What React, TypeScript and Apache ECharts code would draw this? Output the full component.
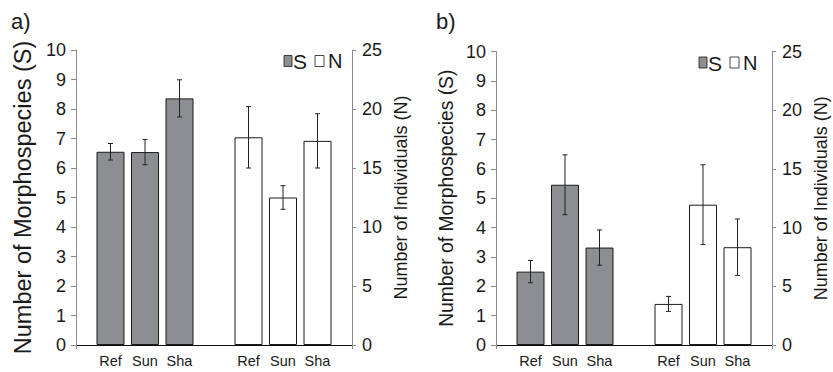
import React, { useEffect, useRef } from "react";
import * as echarts from "echarts";

const categories = ["", "Ref", "Sun", "Sha", "", "Ref", "Sun", "Sha", ""];
const sSlots = [1, 2, 3];
const nSlots = [5, 6, 7];

// panel a
const aS = [6.55, 6.54, 8.36];
const aSErr = [0.28, 0.43, 0.63];
const aN = [17.6, 12.5, 17.3];
const aNErr = [2.6, 1.0, 2.3];

// panel b
const bS = [2.5, 5.46, 3.32];
const bSErr = [0.38, 1.02, 0.6];
const bN = [3.5, 11.95, 8.33];
const bNErr = [0.64, 3.4, 2.4];

const sAxis = { min: 0, max: 10, interval: 1 };
const nAxis = { min: 0, max: 25, interval: 5 };

const FONT = "'Liberation Sans', Arial, sans-serif";
const AXIS_GRAY = "#8a8a8a";
const TEXT = "#1a1a1a";

function pairs(slots: number[], vals: number[]) {
  return slots.map((s, i) => [s, vals[i]]);
}
function triples(slots: number[], vals: number[], errs: number[]) {
  return slots.map((s, i) => [s, vals[i], errs[i]]);
}

const errRender = (params: any, api: any) => {
  const x = api.value(0);
  const y = api.value(1);
  const e = api.value(2);
  const top = api.coord([x, y + e]);
  const bot = api.coord([x, y - e]);
  const hw = 2.5;
  const style = { stroke: "#222", lineWidth: 1 };
  return {
    type: "group",
    children: [
      { type: "line", shape: { x1: top[0], y1: top[1], x2: bot[0], y2: bot[1] }, style },
      { type: "line", shape: { x1: top[0] - hw, y1: top[1], x2: top[0] + hw, y2: top[1] }, style },
      { type: "line", shape: { x1: bot[0] - hw, y1: bot[1], x2: bot[0] + hw, y2: bot[1] }, style },
    ],
  };
};

function panelAxes(gi: number, leftTitleSize: number, leftGap: number) {
  const xAxis = [
    {
      gridIndex: gi,
      type: "category",
      data: categories,
      boundaryGap: false,
      axisLine: { lineStyle: { color: AXIS_GRAY, width: 1 } },
      axisTick: {
        interval: (i: number) => i === 0 || i === categories.length - 1,
        length: 4,
        lineStyle: { color: AXIS_GRAY },
      },
      axisLabel: { interval: 0, color: TEXT, fontSize: 14.5, fontFamily: FONT, margin: 8 },
      splitLine: { show: false },
    },
    {
      gridIndex: gi,
      type: "category",
      data: categories,
      position: "top",
      boundaryGap: false,
      axisLine: { lineStyle: { color: "#111", width: 1 } },
      axisTick: { show: false },
      axisLabel: { show: false },
      splitLine: { show: false },
    },
  ];
  const yAxis = [
    {
      gridIndex: gi,
      type: "value",
      ...sAxis,
      position: "left",
      name: "Number of Morphospecies (S)",
      nameLocation: "middle",
      nameGap: leftGap,
      nameTextStyle: { fontSize: leftTitleSize, color: TEXT, fontFamily: FONT },
      axisLine: { show: true, lineStyle: { color: AXIS_GRAY } },
      axisTick: { show: true, length: 5, lineStyle: { color: AXIS_GRAY } },
      axisLabel: { color: TEXT, fontSize: 18, fontFamily: FONT, margin: 10 },
      splitLine: { show: false },
    },
    {
      gridIndex: gi,
      type: "value",
      ...nAxis,
      position: "right",
      name: "Number of Individuals (N)",
      nameLocation: "middle",
      nameGap: 40,
      nameTextStyle: { fontSize: 18, color: TEXT, fontFamily: FONT },
      axisLine: { show: true, lineStyle: { color: AXIS_GRAY } },
      axisTick: { show: true, length: 4, lineStyle: { color: AXIS_GRAY } },
      axisLabel: { color: TEXT, fontSize: 18, fontFamily: FONT, margin: 10 },
      splitLine: { show: false },
    },
  ];
  return { xAxis, yAxis };
}

function panelSeries(
  gi: number,
  S: number[],
  SErr: number[],
  N: number[],
  NErr: number[]
) {
  const xi = gi * 2;
  const yi = gi * 2;
  return [
    {
      name: "S",
      type: "bar",
      xAxisIndex: xi,
      yAxisIndex: yi,
      data: pairs(sSlots, S),
      barWidth: 28,
      barGap: "-100%",
      itemStyle: { color: "#8d8e92", borderColor: "#1a1a1a", borderWidth: 1 },
      z: 2,
    },
    {
      name: "N",
      type: "bar",
      xAxisIndex: xi,
      yAxisIndex: yi + 1,
      data: pairs(nSlots, N),
      barWidth: 28,
      barGap: "-100%",
      itemStyle: { color: "#ffffff", borderColor: "#1a1a1a", borderWidth: 1 },
      z: 2,
    },
    {
      type: "custom",
      xAxisIndex: xi,
      yAxisIndex: yi,
      renderItem: errRender,
      data: triples(sSlots, S, SErr),
      encode: { x: 0, y: 1 },
      z: 3,
    },
    {
      type: "custom",
      xAxisIndex: xi,
      yAxisIndex: yi + 1,
      renderItem: errRender,
      data: triples(nSlots, N, NErr),
      encode: { x: 0, y: 1 },
      z: 3,
    },
  ];
}

function legendGraphic(x: number, y: number) {
  return [
    { type: "rect", shape: { x, y: y + 1.5, width: 8, height: 11 }, style: { fill: "#8d8e92", stroke: "#1a1a1a", lineWidth: 0.8 } },
    { type: "text", x: x + 9, y: y - 3, style: { text: "S", fontSize: 21, fill: TEXT, fontFamily: FONT } },
    { type: "rect", shape: { x: x + 31, y: y + 1.5, width: 9, height: 11 }, style: { fill: "#fff", stroke: "#1a1a1a", lineWidth: 0.8 } },
    { type: "text", x: x + 44, y: y - 3, style: { text: "N", fontSize: 20, fill: TEXT, fontFamily: FONT } },
  ];
}

export default function App() {
  const ref = useRef<HTMLDivElement>(null);
  useEffect(() => {
    if (!ref.current) return;
    const chart = echarts.init(ref.current, undefined, { renderer: "svg" });
    const a = panelAxes(0, 23.5, 41);
    const b = panelAxes(1, 19.3, 40);
    chart.setOption({
      animation: false,
      backgroundColor: "#ffffff",
      grid: [
        { left: 76, top: 50, width: 276, height: 295 },
        { left: 496, top: 51.5, width: 276, height: 293.5 },
      ],
      xAxis: [...a.xAxis, ...b.xAxis],
      yAxis: [...a.yAxis, ...b.yAxis],
      series: [
        ...panelSeries(0, aS, aSErr, aN, aNErr),
        ...panelSeries(1, bS, bSErr, bN, bNErr),
      ],
      graphic: [
        { type: "text", left: 11, top: 10, style: { text: "a)", fontSize: 22, fill: TEXT, fontFamily: FONT } },
        { type: "text", left: 436, top: 10, style: { text: "b)", fontSize: 22, fill: TEXT, fontFamily: FONT } },
        ...legendGraphic(284, 54),
        ...legendGraphic(699, 55.5),
      ],
    });
    return () => chart.dispose();
  }, []);
  return (
    <div
      ref={ref}
      style={{ position: "fixed", left: 0, top: 0, width: 833, height: 372, background: "#fff" }}
    />
  );
}
